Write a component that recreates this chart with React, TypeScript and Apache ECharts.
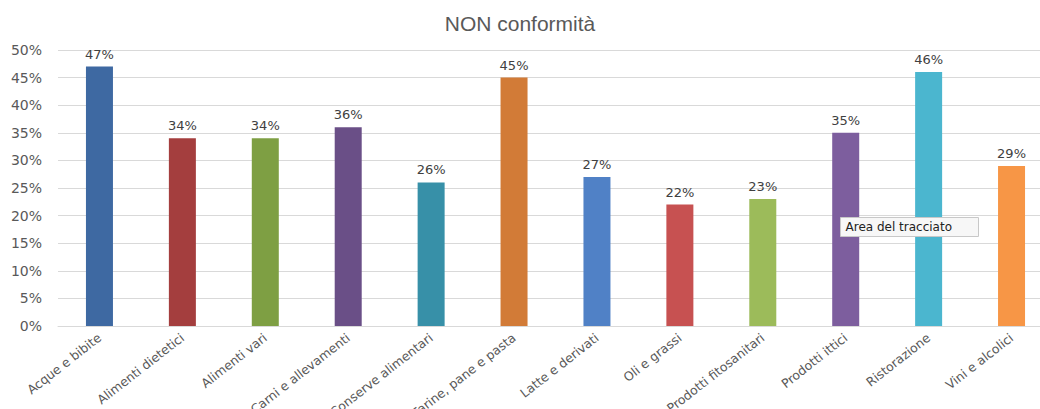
import React, { useEffect, useRef } from "react";
import * as echarts from "echarts";

const categories = [
  "Acque e bibite",
  "Alimenti dietetici",
  "Alimenti vari",
  "Carni e allevamenti",
  "Conserve alimentari",
  "Farine, pane e pasta",
  "Latte e derivati",
  "Oli e grassi",
  "Prodotti fitosanitari",
  "Prodotti ittici",
  "Ristorazione",
  "Vini e alcolici",
];
const values = [47, 34, 34, 36, 26, 45, 27, 22, 23, 35, 46, 29];
const colors = [
  "#3E69A2",
  "#A43E3E",
  "#7E9F43",
  "#6A4F87",
  "#3790A8",
  "#D27B37",
  "#5081C6",
  "#C75151",
  "#9CBB5A",
  "#7D5E9E",
  "#4BB6CF",
  "#F79646",
];

export default function App() {
  const ref = useRef<HTMLDivElement>(null);
  useEffect(() => {
    if (!ref.current) return;
    const chart = echarts.init(ref.current, undefined, { renderer: "svg" });
    chart.setOption({
      animation: false,
      backgroundColor: "#ffffff",
      title: {
        text: "NON conformità",
        left: "center",
        top: 8,
        textStyle: {
          fontFamily: "Liberation Sans Narrow, Liberation Sans, sans-serif",
          fontSize: 21,
          fontWeight: "normal",
          color: "#595959",
        },
      },
      grid: {
        left: 58,
        right: -13,
        top: 50,
        bottom: 83,
        containLabel: false,
        outerBoundsMode: "none",
      },
      xAxis: {
        type: "category",
        data: categories,
        axisLine: { lineStyle: { color: "#d9d9d9" } },
        axisTick: { show: false },
        axisLabel: {
          interval: 0,
          rotate: 38,
          margin: 10,
          fontFamily: "DejaVu Sans, sans-serif",
          fontSize: 12.5,
          color: "#595959",
        },
      },
      yAxis: {
        type: "value",
        min: 0,
        max: 50,
        interval: 5,
        axisLine: { show: false },
        axisTick: { show: false },
        splitLine: { lineStyle: { color: "#d9d9d9" } },
        axisLabel: {
          formatter: "{value}%",
          margin: 16,
          fontFamily: "DejaVu Sans, sans-serif",
          fontSize: 14,
          color: "#595959",
        },
      },
      series: [
        {
          type: "bar",
          barWidth: 27,
          data: values.map((v, i) => ({ value: v, itemStyle: { color: colors[i] } })),
          label: {
            show: true,
            position: "top",
            distance: 6,
            formatter: "{c}%",
            fontFamily: "DejaVu Sans, sans-serif",
            fontSize: 13,
            color: "#404040",
          },
        },
      ],
      graphic: [
        {
          type: "group",
          left: 840,
          top: 217,
          z: 100,
          children: [
            {
              type: "rect",
              z: 100,
              shape: { x: 0, y: 0, width: 138, height: 19 },
              style: { fill: "#f7f7f7", stroke: "#c8c8c8", lineWidth: 1 },
            },
            {
              type: "text",
              z: 101,
              x: 5,
              y: 3,
              style: {
                text: "Area del tracciato",
                fontFamily: "DejaVu Sans, sans-serif",
                fontSize: 12,
                fill: "#222222",
              },
            },
          ],
        },
      ],
    });
    return () => chart.dispose();
  }, []);
  return (
    <div
      ref={ref}
      style={{ position: "absolute", left: 0, top: 0, width: 1040, height: 409 }}
    />
  );
}
